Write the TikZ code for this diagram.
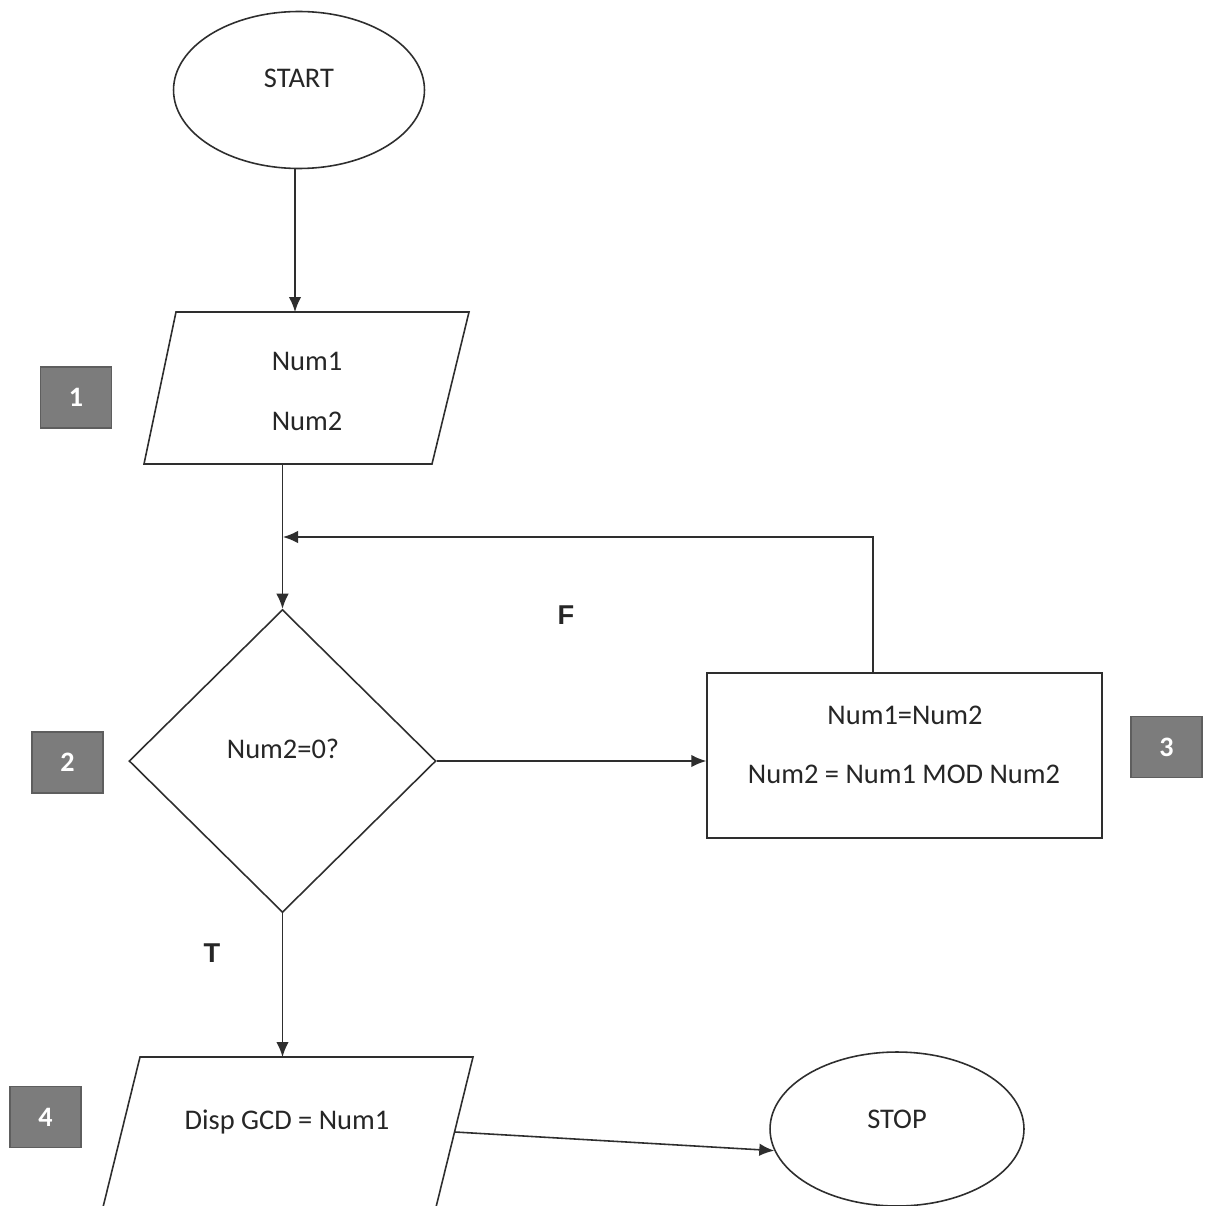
\documentclass[tikz,border=0pt]{standalone}
\usepackage{fontspec}
\setmainfont{Carlito}
\newfontfamily\labfont{Liberation Sans}
\usetikzlibrary{shapes.geometric,arrows.meta}
\definecolor{ink}{HTML}{2E2E2E}
\definecolor{tagfill}{HTML}{7C7C7C}
\definecolor{tagline}{HTML}{5E5E5E}
\tikzset{
  shapeline/.style={draw=ink, line width=0.9pt},
  conn/.style={draw=ink, line width=0.9pt},
  arr/.style={conn, -{Latex[length=0.3cm,width=0.25cm]}},
  txt/.style={font=\fontsize{16.2}{19}\selectfont, text=black!85, inner sep=0pt},
  tag/.style={fill=tagfill, draw=tagline, line width=0.8pt, minimum width=1.42cm, minimum height=1.22cm, inner sep=0pt, text=white, font=\fontsize{16}{18}\selectfont\bfseries},
  flag/.style={font=\labfont\fontsize{15.5}{18}\selectfont\bfseries, text=black!85, inner sep=0pt}
}
\begin{document}
\begin{tikzpicture}[x=0.02cm, y=-0.02cm]
\useasboundingbox (0,0) rectangle (1205,1206);
\fill[white] (0,0) rectangle (1205,1206);
\clip (0,0) rectangle (1205,1206);

% START
\node[shapeline, ellipse, minimum width=5.02cm, minimum height=3.14cm, inner sep=0pt] (start) at (299,90) {};
\node[txt] (starttext) at (299,78) {START};

% Parallelogram 1
\coordinate (p1a) at (176,312);
\coordinate (p1b) at (469,312);
\coordinate (p1c) at (432,464);
\coordinate (p1d) at (144,464);
\draw[shapeline] (p1a) -- (p1b) -- (p1c) -- (p1d) -- cycle;
\coordinate (p1top) at (295,312);
\coordinate (p1bot) at (282.5,464);
\node[txt] (num1) at (307,361) {Num1};
\node[txt] (num2) at (307,421) {Num2};
\node[tag] (tag1) at (76,397.5) {1};

% Diamond
\node[shapeline, diamond, minimum width=6.14cm, minimum height=6.06cm, inner sep=0pt] (dec) at (282.5,761) {};
\node[txt] (dectext) at (283,749) {Num2=0?};
\node[tag] (tag2) at (67.5,762.5) {2};

% Process box
\node[shapeline, rectangle, minimum width=7.9cm, minimum height=3.3cm, inner sep=0pt] (proc) at (904.5,755.5) {};
\node[txt] (proct1) at (905,715) {Num1=Num2};
\node[txt] (proct2) at (904,774) {Num2 = Num1 MOD Num2};
\node[tag] (tag3) at (1166.5,747) {3};

% Parallelogram 4 (cut off by page edge)
\coordinate (p4a) at (140,1057);
\coordinate (p4b) at (473,1057);
\coordinate (p4c) at (423,1260);
\coordinate (p4d) at (90,1260);
\draw[shapeline] (p4d) -- (p4a) -- (p4b) -- (p4c);
\coordinate (p4top) at (282.5,1057);
\coordinate (p4right) at (455,1132);
\node[txt] (disp) at (287,1122) {Disp GCD = Num1};
\node[tag] (tag4) at (45.5,1117) {4};

% STOP
\node[shapeline, ellipse, minimum width=5.08cm, minimum height=3.08cm, inner sep=0pt] (stop) at (897,1129) {};
\node[txt] (stoptext) at (897,1119) {STOP};

% Labels
\node[flag] (flagF) at (566,615) {F};
\node[flag] (flagT) at (212,953) {T};

% Connectors
\draw[arr] (p1top |- start.south) -- (p1top);
\draw[arr] (p1bot) -- (dec.north);
\coordinate (loopstart) at (873,673);
\coordinate (loopend) at (283,537);
\draw[arr] (loopstart) |- (loopend);
\draw[arr] (dec.east) -- (dec.east -| proc.west);
\draw[arr] (dec.south) -- (p4top);
\draw[arr] (p4right) -- (stop.190);
\end{tikzpicture}
\end{document}
